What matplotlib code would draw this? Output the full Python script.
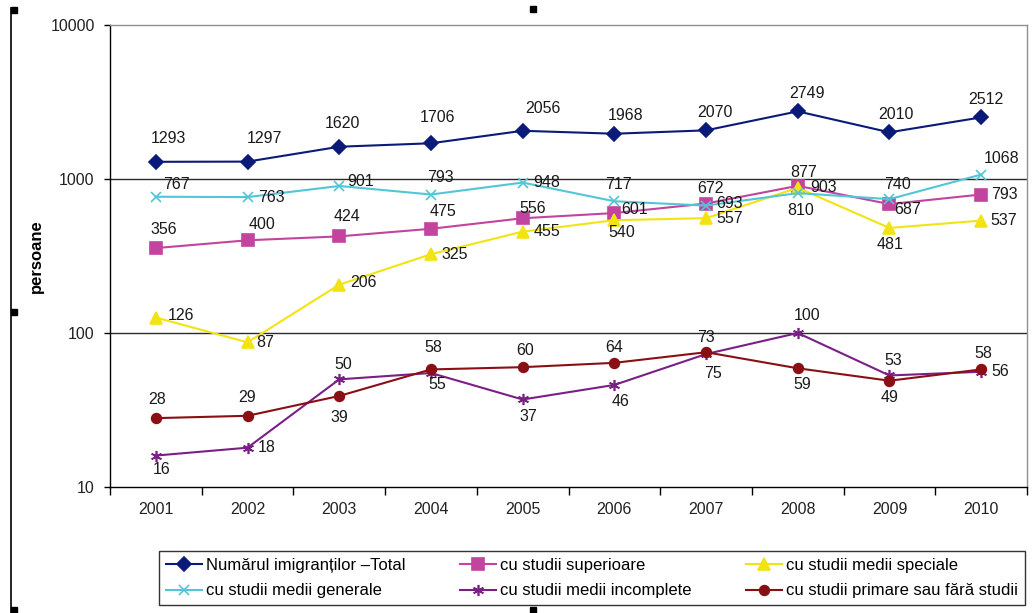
import matplotlib
matplotlib.use("Agg")
import matplotlib.pyplot as plt
from matplotlib.lines import Line2D
from matplotlib.patches import Rectangle
from matplotlib.ticker import FixedLocator, NullLocator

plt.rcParams["font.family"] = ["Liberation Sans", "DejaVu Sans"]

years = ["2001", "2002", "2003", "2004", "2005", "2006", "2007", "2008", "2009", "2010"]

total = [1293, 1297, 1620, 1706, 2056, 1968, 2070, 2749, 2010, 2512]
superioare = [356, 400, 424, 475, 556, 601, 693, 903, 687, 793]
medii_speciale = [126, 87, 206, 325, 455, 540, 557, 877, 481, 537]
medii_generale = [767, 763, 901, 793, 948, 717, 672, 810, 740, 1068]
medii_incomplete = [16, 18, 50, 55, 37, 46, 73, 100, 53, 56]
primare = [28, 29, 39, 58, 60, 64, 75, 59, 49, 58]

labels = [
    "Numărul imigranților –Total",
    "cu studii superioare",
    "cu studii medii speciale",
    "cu studii medii generale",
    "cu studii medii incomplete",
    "cu studii primare sau fără studii",
]

# data label offsets in pixels (dx right, dy down), one per point
off_total = [(13, -23), (17, -23), (3, -23), (7, -26), (20, -22),
             (11, -18), (9, -18), (9, -18), (6, -18), (5, -18)]
off_sup = [(8, -19), (14, -16), (8, -20), (12, -17), (10, -10),
           (20, -4), (24, 0), (26, 2), (18, 5), (23, 0)]
off_spec = [(25, -2), (18, 0), (24, -2), (24, 0), (24, 0),
            (7, 12), (24, 0), (6, -15), (1, 17), (23, 0)]
off_gen = [(21, -12), (24, 0), (21, -4), (9, -17), (24, 0),
           (4, -17), (4, -17), (3, 17), (8, -15), (20, -16)]
off_inc = [(6, 14), (19, 0), (4, -15), (6, 12), (6, 17),
           (6, 17), (0, -17), (9, -18), (4, -15), (19, 0)]
off_prim = [(1, -19), (0, -18), (0, 22), (2, -22), (2, -17),
            (0, -15), (7, 21), (5, 16), (0, 17), (2, -16)]

series = [
    (total, labels[0], "#0a1a78", "D", 7, off_total),
    (superioare, labels[1], "#c2449f", "s", 8, off_sup),
    (medii_speciale, labels[2], "#f2e412", "^", 8.5, off_spec),
    (medii_generale, labels[3], "#52c6d6", "x", 7, off_gen),
    (medii_incomplete, labels[4], "#7a1f86", (6, 2, 0), 8, off_inc),
    (primare, labels[5], "#8a0f14", "o", 7, off_prim),
]

fig = plt.figure(figsize=(10.33, 6.13), dpi=100)
W, H = 1033, 613
ax = fig.add_axes([110 / W, 1 - 487 / H, 917 / W, 462 / H])

x = list(range(len(years)))
handles = {}
for values, name, color, marker, ms, offs in series:
    (ln,) = ax.plot(x, values, color=color, lw=1.5, marker=marker, ms=ms,
                    mec=color, mfc=color, mew=1.2, label=name, zorder=3)
    handles[name] = ln
    for xi, v, (dx, dy) in zip(x, values, offs):
        ax.annotate(str(v), (xi, v), xytext=(dx, -dy), textcoords="offset pixels",
                    ha="center", va="center", fontsize=11.5, color="#1a1a1a",
                    zorder=4)

ax.set_yscale("log")
ax.set_ylim(10, 10000)
ax.set_xlim(-0.5, len(years) - 0.5)
ax.yaxis.set_major_locator(FixedLocator([10, 100, 1000, 10000]))
ax.yaxis.set_minor_locator(NullLocator())
ax.set_yticklabels(["10", "100", "1000", "10000"])
ax.set_xticks(x)
ax.set_xticklabels(years)
ax.set_xticks([i - 0.5 for i in range(len(years) + 1)], minor=True)
ax.tick_params(axis="x", which="major", length=0, pad=11, labelsize=11.5, colors="#222222")
ax.tick_params(axis="x", which="minor", length=6, width=1, direction="out", color="black")
ax.tick_params(axis="y", which="major", length=4, width=1, pad=7, labelsize=11.5,
               direction="out", colors="#222222")
ax.tick_params(axis="y", which="major", color="black")

for yv in (100, 1000):
    ax.axhline(yv, color="#2a2a2a", lw=1.0, zorder=1)

ax.spines["left"].set_color("black")
ax.spines["bottom"].set_color("black")
ax.spines["top"].set_color("#909090")
ax.spines["right"].set_color("#909090")
for s in ax.spines.values():
    s.set_linewidth(1.0)

ax.set_ylabel("persoane", fontsize=12, fontweight="bold")
ax.yaxis.set_label_coords(-0.072, 0.5)

order = [labels[0], labels[3], labels[1], labels[4], labels[2], labels[5]]
leg = fig.legend([handles[n] for n in order], order, ncol=3, mode="expand",
                 loc="upper left",
                 bbox_to_anchor=(159 / W, 1 - 551 / H, 866 / W, 0),
                 borderaxespad=0, fontsize=12, frameon=True, fancybox=False,
                 handlelength=2.2, handletextpad=0.25, labelspacing=0.65,
                 borderpad=0.4, columnspacing=2.0)
leg.get_frame().set_edgecolor("black")
leg.get_frame().set_linewidth(1.0)

# selection handles of the chart object
fig.add_artist(Line2D([11 / W, 11 / W], [0, 1 - 8 / H], color="black", lw=1.2,
                      transform=fig.transFigure))
for hx, hy in [(11, 7), (11, 309), (11, 607), (530, 6), (530, 607)]:
    fig.add_artist(Rectangle((hx / W, 1 - (hy + 6) / H), 6 / W, 6 / H,
                             color="black", transform=fig.transFigure))

fig.savefig("out.png", dpi=100)
